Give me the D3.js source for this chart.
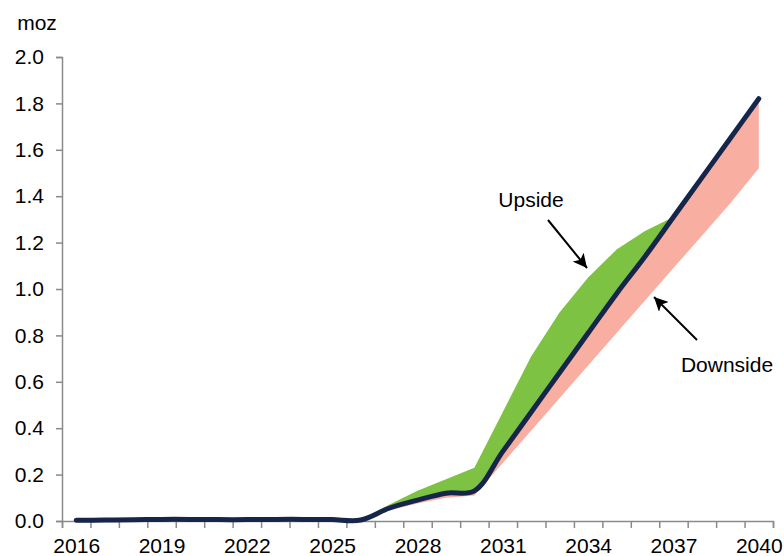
<!DOCTYPE html>
<html>
<head>
<meta charset="utf-8">
<script src="https://cdn.jsdelivr.net/npm/d3@7"></script>
<style>
  html, body { margin: 0; padding: 0; background: #fff; }
  svg { display: block; font-family: "Liberation Sans", Arial, sans-serif; }
</style>
</head>
<body>
<svg id="chart" width="784" height="556"></svg>
<script>
const years = [2016, 2017, 2018, 2019, 2020, 2021, 2022, 2023, 2024, 2025, 2026, 2027, 2028,
               2029, 2030, 2031, 2032, 2033, 2034, 2035, 2036, 2037, 2038, 2039, 2040];
const central = [0.003, 0.004, 0.005, 0.007, 0.007, 0.006, 0.006, 0.007, 0.007, 0.006, 0.004, 0.055, 0.09,
                 0.12, 0.13, 0.30, 0.47, 0.64, 0.81, 0.98, 1.14, 1.31, 1.48, 1.65, 1.82];
const upside = [0.003, 0.004, 0.005, 0.007, 0.007, 0.006, 0.006, 0.007, 0.007, 0.006, 0.004, 0.07, 0.13,
                0.18, 0.23, 0.47, 0.71, 0.90, 1.05, 1.17, 1.25, 1.31, 1.48, 1.65, 1.82];
const downside = [0.003, 0.004, 0.005, 0.007, 0.007, 0.006, 0.006, 0.007, 0.007, 0.006, 0.004, 0.045, 0.075,
                  0.10, 0.11, 0.25, 0.39, 0.53, 0.67, 0.81, 0.95, 1.09, 1.23, 1.37, 1.52];
const xTickLabels = [2016, 2019, 2022, 2025, 2028, 2031, 2034, 2037, 2040];
const yTicks = [0, 0.2, 0.4, 0.6, 0.8, 1.0, 1.2, 1.4, 1.6, 1.8, 2.0];
const unitLabel = "moz";
const annotations = [
  { text: "Upside", tx: 531, ty: 207, from: [548, 220], to: [587, 268] },
  { text: "Downside", tx: 727, ty: 372, from: [697, 340], to: [654, 297] }
];

const svg = d3.select("#chart");
const x = d3.scaleLinear().domain([2015.5, 2040.5]).range([62, 773]);
const y = d3.scaleLinear().domain([0, 2]).range([521, 57]);
const axisColor = "#8a8a8a";
const fontSize = "21px";

const rows = years.map((yr, i) => ({ yr, c: central[i], u: upside[i], d: downside[i] }));

// Areas
svg.append("path")
  .datum(rows)
  .attr("fill", "#7dc242")
  .attr("d", d3.area().x(d => x(d.yr)).y0(d => y(d.c)).y1(d => y(d.u)));
svg.append("path")
  .datum(rows)
  .attr("fill", "#f8aea1")
  .attr("d", d3.area().x(d => x(d.yr)).y0(d => y(d.d)).y1(d => y(d.c)));

// Axes
const yAxis = svg.append("g")
  .attr("transform", `translate(${x(2015.5)},0)`)
  .call(d3.axisLeft(y).tickValues(yTicks).tickSize(6).tickPadding(12).tickFormat(d3.format(".1f")));
const xAxisTicks = svg.append("g")
  .attr("transform", `translate(0,${y(0)})`)
  .call(d3.axisBottom(x).tickValues(d3.range(2015.5, 2041, 1)).tickSize(7).tickFormat(""));
const xAxisLabels = svg.append("g")
  .attr("transform", `translate(0,${y(0)})`)
  .call(d3.axisBottom(x).tickValues(xTickLabels).tickSize(0).tickPadding(17).tickFormat(d3.format("d")));
xAxisLabels.select(".domain").remove();
[yAxis, xAxisTicks].forEach(g => {
  g.selectAll(".domain").attr("stroke", axisColor).attr("stroke-width", 1.5);
  g.selectAll(".tick line").attr("stroke", axisColor).attr("stroke-width", 1.5);
});
[yAxis, xAxisLabels].forEach(g => {
  g.selectAll("text").attr("font-size", fontSize).attr("fill", "#000")
    .attr("font-family", "'Liberation Sans', Arial, sans-serif");
});

// Central line
svg.append("path")
  .datum(rows)
  .attr("fill", "none")
  .attr("stroke", "#16264b")
  .attr("stroke-width", 5)
  .attr("stroke-linecap", "round")
  .attr("stroke-linejoin", "round")
  .attr("d", d3.line().x(d => x(d.yr)).y(d => y(d.c)).curve(d3.curveCatmullRom.alpha(0.5)));

// Unit label
svg.append("text")
  .attr("x", 37).attr("y", 30)
  .attr("text-anchor", "middle")
  .attr("font-size", fontSize)
  .text(unitLabel);

// Annotations
const defs = svg.append("defs");
defs.append("marker")
  .attr("id", "arrow")
  .attr("viewBox", "0 0 10 10")
  .attr("refX", 10).attr("refY", 5)
  .attr("markerWidth", 7).attr("markerHeight", 7)
  .attr("markerUnits", "strokeWidth")
  .attr("orient", "auto")
  .append("path")
  .attr("d", "M0,0 L10,5 L0,10 L2.5,5 Z")
  .attr("fill", "#000");

annotations.forEach(a => {
  svg.append("text")
    .attr("x", a.tx).attr("y", a.ty)
    .attr("text-anchor", "middle")
    .attr("font-size", fontSize)
    .text(a.text);
  svg.append("line")
    .attr("x1", a.from[0]).attr("y1", a.from[1])
    .attr("x2", a.to[0]).attr("y2", a.to[1])
    .attr("stroke", "#000")
    .attr("stroke-width", 2)
    .attr("marker-end", "url(#arrow)");
});
</script>
</body>
</html>
